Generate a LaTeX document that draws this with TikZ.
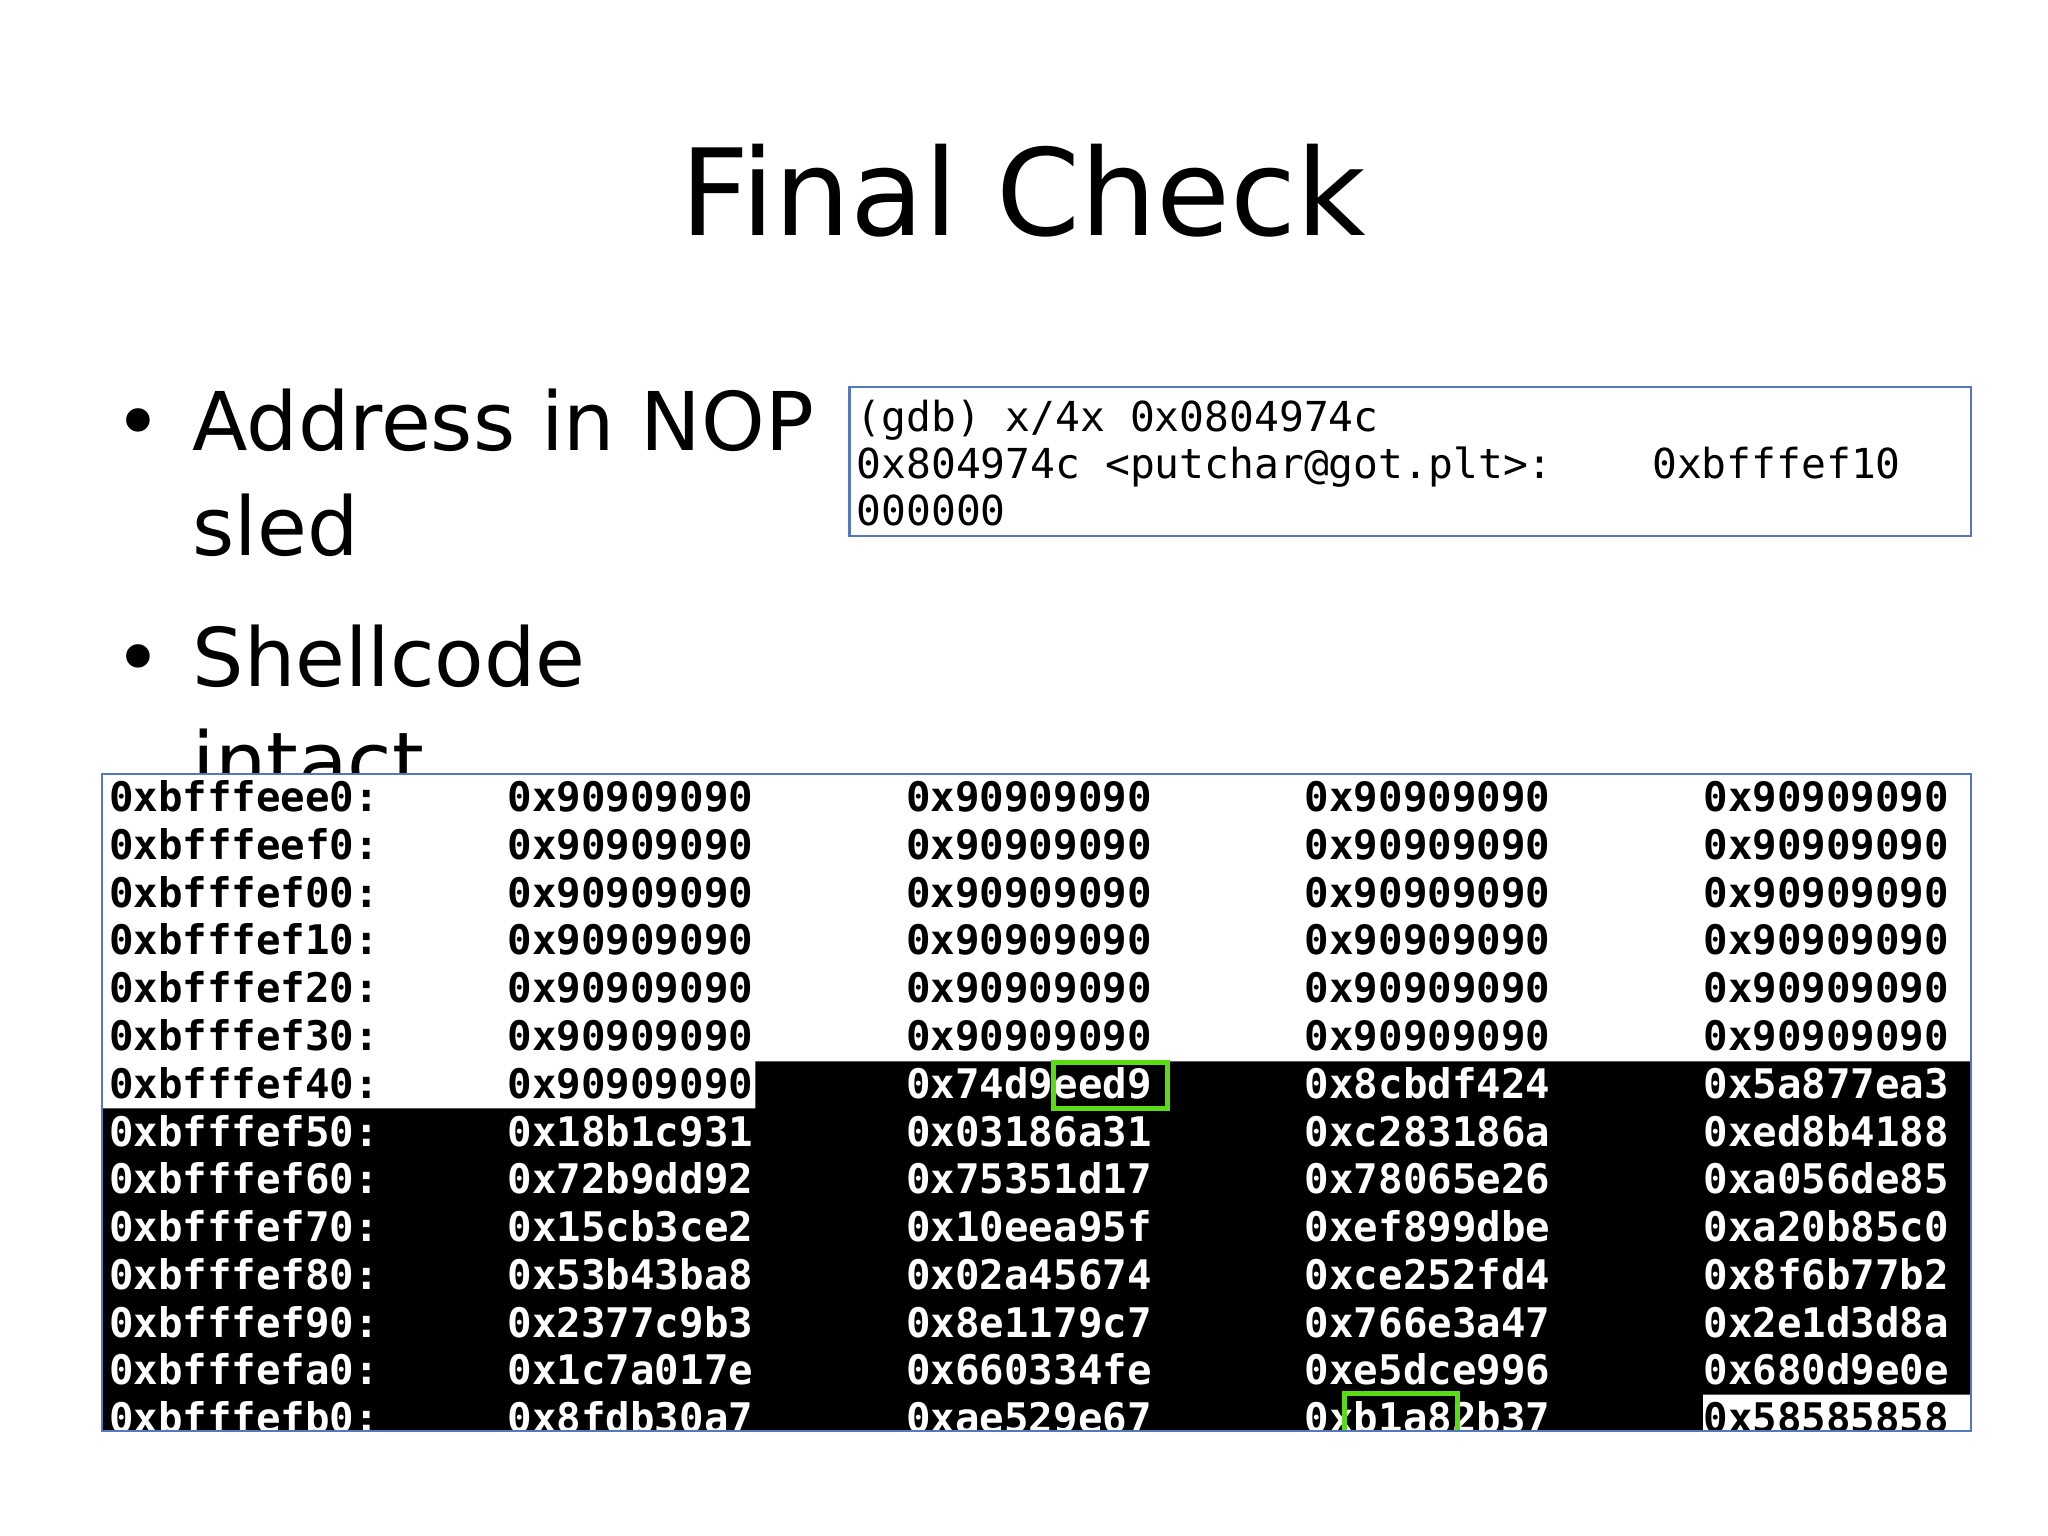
\documentclass[tikz,border=0pt]{standalone}
\usepackage{fontspec}
\setmainfont{DejaVu Sans}
\setmonofont{DejaVu Sans Mono}
\definecolor{frameblue}{RGB}{84,120,190}
\definecolor{hlgreen}{RGB}{90,220,20}
\begin{document}
\begin{tikzpicture}[x=0.5pt,y=-0.5pt,
  mono/.style={font=\fontsize{15.8}{18}\ttfamily, anchor=base west, inner sep=0pt},
  bul/.style={font=\fontsize{31}{38}\selectfont, anchor=base west, inner sep=0pt}]
\useasboundingbox (0,0) rectangle (1567,1175);
\node[font=\fontsize{46}{56}\selectfont, anchor=base, inner sep=0pt] (title) at (783,180) {Final Check};
\node[bul] (b1) at (87,345) {•};
\node[bul] (t1) at (147,345) {Address in NOP};
\node[bul] (t1b) at (147,425) {sled};
\node[bul] (b2) at (87,525) {•};
\node[bul] (t2) at (147,525) {Shellcode};
\node[bul] (t2b) at (147,605) {intact};
% gdb box
\draw[frameblue, line width=0.8pt, fill=white] (650,296) rectangle (1508,410);
\node[mono] (g1) at (655,330) {(gdb) x/4x 0x0804974c};
\node[mono] (g2) at (655,366) {0x804974c <putchar@got.plt>:\ \ \ \ 0xbfffef10};
\node[mono] (g3) at (655,402) {000000};
% table
\fill[white] (78,592) rectangle (1508,1095);
\begin{scope}
\clip (78,592) rectangle (1508,1095);
\fill[black] (578,812) -- (1508,812) -- (1508,1067) -- (1303,1067) -- (1303,1095) -- (78,1095) -- (78,848) -- (578,848) -- cycle;
\def\rows{{"0xbfffeee0:","0x90909090","0x90909090","0x90909090","0x90909090",
"0xbfffeef0:","0x90909090","0x90909090","0x90909090","0x90909090",
"0xbfffef00:","0x90909090","0x90909090","0x90909090","0x90909090",
"0xbfffef10:","0x90909090","0x90909090","0x90909090","0x90909090",
"0xbfffef20:","0x90909090","0x90909090","0x90909090","0x90909090",
"0xbfffef30:","0x90909090","0x90909090","0x90909090","0x90909090",
"0xbfffef40:","0x90909090","0x74d9eed9","0x8cbdf424","0x5a877ea3",
"0xbfffef50:","0x18b1c931","0x03186a31","0xc283186a","0xed8b4188",
"0xbfffef60:","0x72b9dd92","0x75351d17","0x78065e26","0xa056de85",
"0xbfffef70:","0x15cb3ce2","0x10eea95f","0xef899dbe","0xa20b85c0",
"0xbfffef80:","0x53b43ba8","0x02a45674","0xce252fd4","0x8f6b77b2",
"0xbfffef90:","0x2377c9b3","0x8e1179c7","0x766e3a47","0x2e1d3d8a",
"0xbfffefa0:","0x1c7a017e","0x660334fe","0xe5dce996","0x680d9e0e",
"0xbfffefb0:","0x8fdb30a7","0xae529e67","0xb1a82b37","0x58585858"}}
\foreach \r in {0,...,13}{
  \foreach \c in {0,...,4}{
    \pgfmathtruncatemacro{\idx}{\r*5+\c}
    \pgfmathsetmacro{\txt}{\rows[\idx]}
    \pgfmathsetmacro{\isw}{(\r<6) || (\r==6 && \c<2) || (\r==13 && \c==4) ? 1 : 0}
    \ifdim\isw pt>0.5pt \def\tc{black}\else\def\tc{white}\fi
    \node[mono, font=\fontsize{15.6}{18}\ttfamily\bfseries, text=\tc] (c\r-\c) at (83+305*\c, 621+36.55*\r) {\txt};
  }
}
\draw[hlgreen, line width=2pt] (806,813) rectangle (893,848);
\draw[hlgreen, line width=2pt] (1029,1066) rectangle (1115,1100);
\end{scope}
\draw[frameblue, line width=0.8pt] (78,592) rectangle (1508,1095);
\end{tikzpicture}
\end{document}
